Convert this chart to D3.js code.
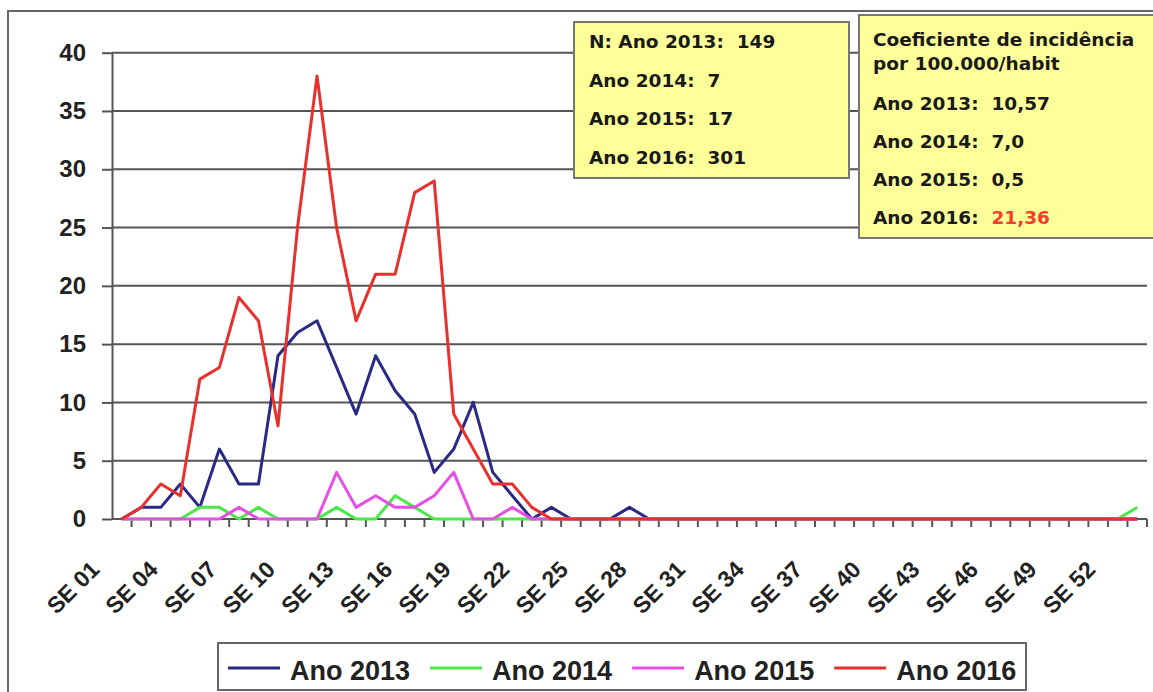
<!DOCTYPE html>
<html>
<head>
<meta charset="utf-8">
<script src="https://cdn.jsdelivr.net/npm/d3@7"></script>
<style>
  body { margin: 0; background: #fff; }
  svg { display: block; }
</style>
</head>
<body>
<div class="main"></div>
<script>
// epidemiological weeks
let weeks = ["SE 01","SE 02","SE 03","SE 04","SE 05","SE 06","SE 07","SE 08","SE 09","SE 10",
             "SE 11","SE 12","SE 13","SE 14","SE 15","SE 16","SE 17","SE 18","SE 19","SE 20",
             "SE 21","SE 22","SE 23","SE 24","SE 25","SE 26","SE 27","SE 28","SE 29","SE 30",
             "SE 31","SE 32","SE 33","SE 34","SE 35","SE 36","SE 37","SE 38","SE 39","SE 40",
             "SE 41","SE 42","SE 43","SE 44","SE 45","SE 46","SE 47","SE 48","SE 49","SE 50",
             "SE 51","SE 52","SE 53"];

// cases per week
let ano2013 = [0,1,1,3,1,6,3,3,14,16, 17,13,9,14,11,9,4,6,10,4, 2,0,1,0,0,0,1,0,0,0,
               0,0,0,0,0,0,0,0,0,0, 0,0,0,0,0,0,0,0,0,0, 0,0,0];
let ano2014 = [0,0,0,0,1,1,0,1,0,0, 0,1,0,0,2,1,0,0,0,0, 0,0,0,0,0,0,0,0,0,0,
               0,0,0,0,0,0,0,0,0,0, 0,0,0,0,0,0,0,0,0,0, 0,0,1];
let ano2015 = [0,0,0,0,0,0,1,0,0,0, 0,4,1,2,1,1,2,4,0,0, 1,0,0,0,0,0,0,0,0,0,
               0,0,0,0,0,0,0,0,0,0, 0,0,0,0,0,0,0,0,0,0, 0,0,0];
let ano2016 = [0,1,3,2,12,13,19,17,8,25, 38,25,17,21,21,28,29,9,6,3, 3,1,0,0,0,0,0,0,0,0,
               0,0,0,0,0,0,0,0,0,0, 0,0,0,0,0,0,0,0,0,0, 0,0,0];

let yTicks = [0,5,10,15,20,25,30,35,40];
let labelWeeks = ["SE 01","SE 04","SE 07","SE 10","SE 13","SE 16","SE 19","SE 22","SE 25",
                  "SE 28","SE 31","SE 34","SE 37","SE 40","SE 43","SE 46","SE 49","SE 52"];

let seriesNames = ["Ano 2013","Ano 2014","Ano 2015","Ano 2016"];
let seriesColors = ["#2a2a86","#4be84b","#e64ee6","#e8302c"];

let boxN = ["N: Ano 2013:  149","Ano 2014:  7","Ano 2015:  17","Ano 2016:  301"];
let boxCoefTitle = ["Coeficiente de incidência","por 100.000/habit"];
let boxCoefYears = ["Ano 2013:","Ano 2014:","Ano 2015:","Ano 2016:"];
let boxCoefValues = ["10,57","7,0","0,5","21,36"];

let width = 1153, height = 692;

let svg = d3.select("div.main").append("svg")
  .attr("width", width)
  .attr("height", height)
  .style("background-color", "#fff");

// outer frame
svg.append("rect")
  .attr("x", 8).attr("y", 11)
  .attr("width", 1150).attr("height", 700)
  .attr("fill", "none")
  .attr("stroke", "#666")
  .attr("stroke-width", 2);

let x = d3.scaleBand().domain(weeks).range([112, 1147]);
let y = d3.scaleLinear().domain([0, 40]).range([519, 52.7]);
let cx = function(w) { return x(w) + x.bandwidth() / 2; };

// gridlines
svg.append("g").selectAll("line")
  .data(yTicks.filter(function(d) { return d > 0; }))
  .enter().append("line")
    .attr("x1", 112).attr("x2", 1147)
    .attr("y1", y).attr("y2", y)
    .attr("stroke", "#555")
    .attr("stroke-width", 2);

// y axis
let yAxis = svg.append("g")
  .attr("transform", "translate(112,0)")
  .call(d3.axisLeft(y).tickValues(yTicks).tickSize(10).tickPadding(16).tickSizeOuter(0));
yAxis.select(".domain").attr("stroke", "#555").attr("stroke-width", 2);
yAxis.selectAll(".tick line").attr("stroke", "#555").attr("stroke-width", 2);
yAxis.selectAll(".tick text")
  .attr("fill", "#222")
  .style("font", "bold 24px 'Liberation Sans', Arial, sans-serif");

// x axis line + ticks between categories
svg.append("line")
  .attr("x1", 112).attr("x2", 1147)
  .attr("y1", y(0)).attr("y2", y(0))
  .attr("stroke", "#555").attr("stroke-width", 2);

svg.append("g").selectAll("line")
  .data(weeks)
  .enter().append("line")
    .attr("x1", function(d) { return x(d) + x.bandwidth(); })
    .attr("x2", function(d) { return x(d) + x.bandwidth(); })
    .attr("y1", y(0)).attr("y2", y(0) + 8)
    .attr("stroke", "#555").attr("stroke-width", 2);

svg.append("g").selectAll("text")
  .data(labelWeeks)
  .enter().append("text")
    .attr("text-anchor", "end")
    .attr("transform", function(d) { return "translate(" + (cx(d) - 21) + ",571) rotate(-45)"; })
    .attr("fill", "#222")
    .style("font", "bold 23px 'Liberation Sans', Arial, sans-serif")
    .text(function(d) { return d; });

// lines
let series = [ano2013, ano2014, ano2015, ano2016];
let line = d3.line()
  .x(function(d, i) { return cx(weeks[i]); })
  .y(function(d) { return y(d); });

series.forEach(function(s, i) {
  svg.append("path")
    .datum(s)
    .attr("d", line)
    .attr("fill", "none")
    .attr("stroke", seriesColors[i])
    .attr("stroke-width", 3)
    .attr("stroke-linejoin", "round");
});

// info boxes
let boxFont = "bold 18.5px 'DejaVu Sans', Verdana, sans-serif";

svg.append("rect")
  .attr("x", 574).attr("y", 22)
  .attr("width", 275).attr("height", 156)
  .attr("fill", "#ffff99").attr("stroke", "#777").attr("stroke-width", 2);

svg.append("g").selectAll("text")
  .data(boxN)
  .enter().append("text")
    .attr("x", 589)
    .attr("y", function(d, i) { return 48 + i * 38.5; })
    .attr("fill", "#1a1a1a")
    .style("font", boxFont)
    .style("white-space", "pre")
    .text(function(d) { return d; });

svg.append("rect")
  .attr("x", 859).attr("y", 15)
  .attr("width", 300).attr("height", 223)
  .attr("fill", "#ffff99").attr("stroke", "#777").attr("stroke-width", 2);

svg.append("g").selectAll("text")
  .data(boxCoefTitle)
  .enter().append("text")
    .attr("x", 873)
    .attr("y", function(d, i) { return 46 + i * 24; })
    .attr("fill", "#1a1a1a")
    .style("font", boxFont)
    .text(function(d) { return d; });

let coefRows = svg.append("g").selectAll("text")
  .data(boxCoefYears)
  .enter().append("text")
    .attr("x", 873)
    .attr("y", function(d, i) { return 110 + i * 38; })
    .attr("fill", "#1a1a1a")
    .style("font", boxFont)
    .style("white-space", "pre");
coefRows.append("tspan").text(function(d) { return d + "  "; });
coefRows.append("tspan")
  .attr("fill", function(d, i) { return i == 3 ? "#f0402a" : "#1a1a1a"; })
  .text(function(d, i) { return boxCoefValues[i]; });

// legend
svg.append("rect")
  .attr("x", 218).attr("y", 643)
  .attr("width", 808).attr("height", 47)
  .attr("fill", "#fff").attr("stroke", "#666").attr("stroke-width", 2);

let lx = 228;
seriesNames.forEach(function(name, i) {
  svg.append("line")
    .attr("x1", lx).attr("x2", lx + 52)
    .attr("y1", 668).attr("y2", 668)
    .attr("stroke", seriesColors[i]).attr("stroke-width", 3);
  let t = svg.append("text")
    .attr("x", lx + 62).attr("y", 680)
    .attr("fill", "#222")
    .style("font", "bold 27px 'Liberation Sans', Arial, sans-serif")
    .text(name);
  lx += 62 + t.node().getComputedTextLength() + 20;
});
</script>
</body>
</html>
